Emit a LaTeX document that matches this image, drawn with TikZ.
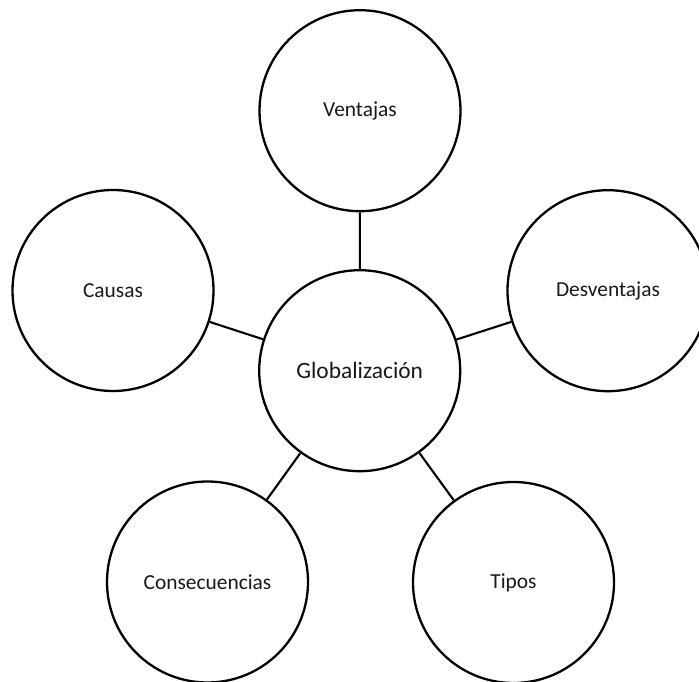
\documentclass[tikz,border=0pt]{standalone}
\usepackage{fontspec}
\setmainfont{Carlito}
\begin{document}
\begin{tikzpicture}[x=1pt,y=1pt,
  bubble/.style={circle,draw=black,line width=2.3pt,minimum size=201pt,inner sep=0pt,
    font=\fontsize{21.4}{24}\selectfont,text=black!90},
  hub/.style={bubble,font=\fontsize{23.4}{26}\selectfont},
  link/.style={draw=black,line width=2.1pt}]
\useasboundingbox (0,0) rectangle (699,681);
\clip (0,0) rectangle (699,681);
\fill[white] (0,0) rectangle (699,681);
\node[hub] (glob) at (359.7,310.3) {Globalización};
\node[bubble] (vent) at (360,570.3) {Ventajas};
\node[bubble] (caus) at (113,390.5) {Causas};
\node[bubble] (desv) at (608,390.3) {Desventajas};
\node[bubble] (cons) at (207.5,99) {Consecuencias};
\node[bubble] (tipo) at (513.5,98.5) {Tipos};
\draw[link] (glob) -- (vent);
\draw[link] (glob) -- (caus);
\draw[link] (glob) -- (desv);
\draw[link] (glob) -- (cons);
\draw[link] (glob) -- (tipo);
\end{tikzpicture}
\end{document}
